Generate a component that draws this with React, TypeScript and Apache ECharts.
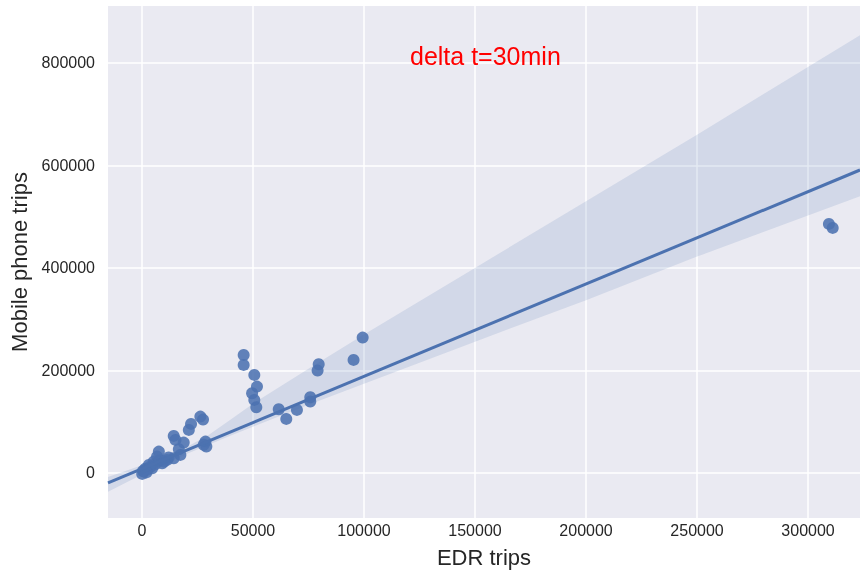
import React, { useEffect, useRef } from "react";
import * as echarts from "echarts";

// Scatter data: EDR trips (x) vs Mobile phone trips (y)
const edrTrips = [
  309400, 311100,
  99400, 95300, 79600, 79100, 75800, 75800, 69800, 65000, 61600,
  45800, 45800, 50600, 51800, 49600, 50600, 51500,
  26300, 27500, 22100, 21100, 14300, 15100, 18800, 28600, 29000, 27800,
  16600, 17300, 14300, 7600, 6800, 5300, 3100, 800, 100, 11300, 9100,
  4600, 2300, 1500, 3800, 6000, 2000, 500, 8000, 12000, 10000,
];
const phoneTrips = [
  485800, 478000,
  264000, 220500, 212100, 199600, 147700, 139100, 122900, 105400, 124300,
  230200, 210700, 191200, 168400, 155500, 142400, 128200,
  109800, 104000, 95600, 83900, 72200, 64400, 59100, 61100, 51300, 55000,
  46200, 35100, 28700, 41600, 31800, 22000, 15600, 2500, -2000, 25400, 18900,
  9200, 5900, 8000, 12000, 17000, 1000, 4000, 24000, 30000, 22000,
];

// Regression line endpoints
const regX = [-15300, 323400];
const regY = [-19600, 591000];

// Confidence band
const bandX = [-15300, 0, 10000, 20000, 30000, 40000, 50000, 75000, 100000, 150000, 200000, 250000, 323400];
const bandUpper = [-8000, 15000, 31000, 50000, 74000, 104000, 135000, 203000, 270000, 400000, 530000, 660000, 854000];
const bandLower = [-37000, -3000, 18000, 37000, 55000, 73000, 90000, 133000, 174000, 256000, 337000, 422000, 540000];

// Axis ticks
const xTicks = [0, 50000, 100000, 150000, 200000, 250000, 300000];
const yTicks = [0, 200000, 400000, 600000, 800000];

const FONT = "'Liberation Sans', Arial, sans-serif";
const BLUE = "#4C72B0";

export default function App() {
  const ref = useRef<HTMLDivElement>(null);
  useEffect(() => {
    const chart = echarts.init(ref.current!, null, { renderer: "svg" });
    const scatterData = edrTrips.map((x, i) => [x, phoneTrips[i]]);
    const lineData = regX.map((x, i) => [x, regY[i]]);
    chart.setOption({
      animation: false,
      textStyle: { fontFamily: FONT },
      grid: {
        left: 108,
        top: 6,
        width: 752,
        height: 512,
        show: true,
        backgroundColor: "#EAEAF2",
        borderWidth: 0,
        containLabel: false,
        outerBoundsMode: "none",
      },
      xAxis: {
        type: "value",
        min: -15300,
        max: 323400,
        name: "EDR trips",
        nameLocation: "middle",
        nameGap: 28,
        nameTextStyle: { fontSize: 22, color: "#262626", fontFamily: FONT },
        axisLine: { show: false },
        axisTick: { show: false, customValues: xTicks },
        axisLabel: {
          customValues: xTicks,
          fontSize: 16,
          color: "#262626",
          margin: 4,
          fontFamily: FONT,
          formatter: (v: number) => String(v),
        },
        splitLine: { show: true, lineStyle: { color: "#ffffff", width: 1.5 } },
      },
      yAxis: {
        type: "value",
        min: -88000,
        max: 911000,
        name: "Mobile phone trips",
        nameLocation: "middle",
        nameGap: 77,
        nameTextStyle: { fontSize: 22, color: "#262626", fontFamily: FONT },
        axisLine: { show: false },
        axisTick: { show: false, customValues: yTicks },
        axisLabel: {
          customValues: yTicks,
          fontSize: 16,
          color: "#262626",
          margin: 13,
          fontFamily: FONT,
          formatter: (v: number) => String(v),
        },
        splitLine: { show: true, lineStyle: { color: "#ffffff", width: 1.5 } },
      },
      series: [
        {
          type: "scatter",
          data: scatterData,
          symbolSize: 12,
          itemStyle: { color: BLUE, opacity: 0.88 },
          z: 2,
        },
        {
          type: "custom",
          coordinateSystem: "cartesian2d",
          data: [[0, 0]],
          z: 3,
          silent: true,
          renderItem: (params: any, api: any) => {
            const pts: number[][] = [];
            for (let i = 0; i < bandX.length; i++) pts.push(api.coord([bandX[i], bandUpper[i]]));
            for (let i = bandX.length - 1; i >= 0; i--) pts.push(api.coord([bandX[i], bandLower[i]]));
            return {
              type: "polygon",
              shape: { points: pts },
              style: { fill: "rgba(76,114,176,0.15)", stroke: "none" },
            };
          },
        },
        {
          type: "line",
          data: lineData,
          symbol: "none",
          lineStyle: { color: BLUE, width: 3 },
          z: 4,
        },
      ],
      graphic: [
        {
          type: "text",
          left: 410,
          top: 43,
          z: 100,
          zlevel: 1,
          style: {
            text: "delta t=30min",
            fill: "#ff0000",
            fontSize: 25,
            fontFamily: FONT,
          },
        },
      ],
    });
    return () => chart.dispose();
  }, []);
  return (
    <div
      ref={ref}
      style={{ position: "fixed", left: 0, top: 0, width: 860, height: 570 }}
    />
  );
}
